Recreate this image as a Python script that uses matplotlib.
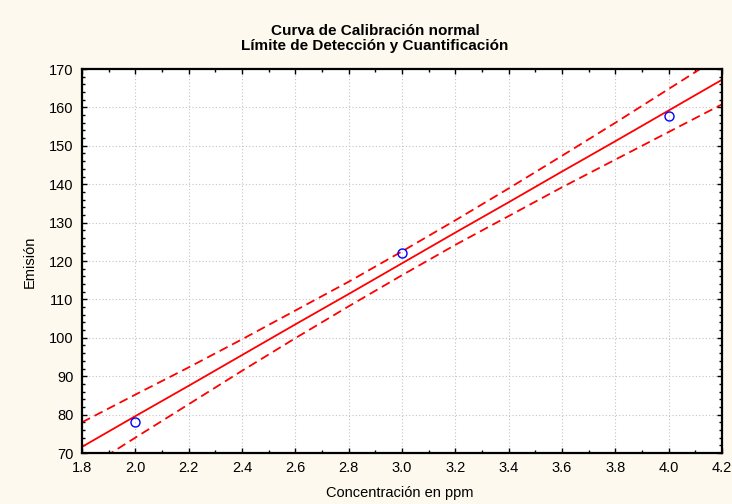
import matplotlib
matplotlib.use("Agg")
import matplotlib.pyplot as plt
from matplotlib.ticker import MultipleLocator, FormatStrFormatter

plt.rcParams['font.family'] = ['Liberation Sans', 'DejaVu Sans']

# Observed data points
conc = [2.0, 3.0, 4.0]
emision = [78.0, 122.0, 157.8]

# Fitted line and confidence bands
x_fit = [1.8, 2.0, 2.2, 2.4, 2.6, 2.8, 3.0, 3.2, 3.4, 3.6, 3.8, 4.0, 4.2]
y_fit = [71.6, 79.6, 87.5, 95.5, 103.5, 111.4, 119.4, 127.4, 135.3, 143.3, 151.2, 159.2, 167.2]
y_upper = [78.0, 85.2, 92.3, 99.6, 107.1, 114.6, 122.5, 130.6, 138.9, 147.4, 156.0, 164.8, 173.6]
y_lower = [65.2, 74.0, 82.7, 91.4, 99.9, 108.2, 116.3, 124.2, 131.7, 139.2, 146.4, 153.6, 160.8]

title1 = "Curva de Calibración normal"
title2 = "Límite de Detección y Cuantificación"
xlabel = "Concentración en ppm"
ylabel = "Emisión"

bg = '#fdf9ee'
fig = plt.figure(figsize=(7.32, 5.04), dpi=100, facecolor=bg)
ax = fig.add_axes([82/732, 1-453/504, 640/732, 384/504])
ax.set_facecolor('white')

ax.plot(x_fit, y_fit, color='#ff0000', lw=1.3)
ax.plot(x_fit, y_upper, color='#ff0000', lw=1.3, dashes=(5, 2.8))
ax.plot(x_fit, y_lower, color='#ff0000', lw=1.3, dashes=(5, 2.8))
ax.plot(conc, emision, 'o', mfc='none', mec='#0000ff', ms=6.5, mew=1.0)

ax.set_xlim(1.8, 4.2)
ax.set_ylim(70, 170)
ax.xaxis.set_major_locator(MultipleLocator(0.2))
ax.xaxis.set_minor_locator(MultipleLocator(0.1))
ax.yaxis.set_major_locator(MultipleLocator(10))
ax.yaxis.set_minor_locator(MultipleLocator(2))
ax.xaxis.set_major_formatter(FormatStrFormatter('%.1f'))
ax.yaxis.set_major_formatter(FormatStrFormatter('%d'))

ax.grid(True, which='major', color='#c4c4c4', lw=0.8, linestyle=(0, (1, 2)))
ax.set_axisbelow(True)
ax.tick_params(which='both', direction='in', top=True, right=True, color='black')
ax.tick_params(which='major', length=3.5, width=1, labelsize=10.5, pad=6)
ax.tick_params(which='minor', length=2.5, width=1)
for s in ax.spines.values():
    s.set_linewidth(1.6)
    s.set_color('black')

fig.text(375/732, 1-31/504, title1, ha='center', va='center', fontsize=11, fontweight='bold')
fig.text(375/732, 1-46/504, title2, ha='center', va='center', fontsize=11, fontweight='bold')
fig.text(400/732, 1-493/504, xlabel, ha='center', va='center', fontsize=10.5)
fig.text(30/732, 1-262/504, ylabel, ha='center', va='center', fontsize=10.5, rotation=90)

fig.savefig('out.png', dpi=100, facecolor=bg)
